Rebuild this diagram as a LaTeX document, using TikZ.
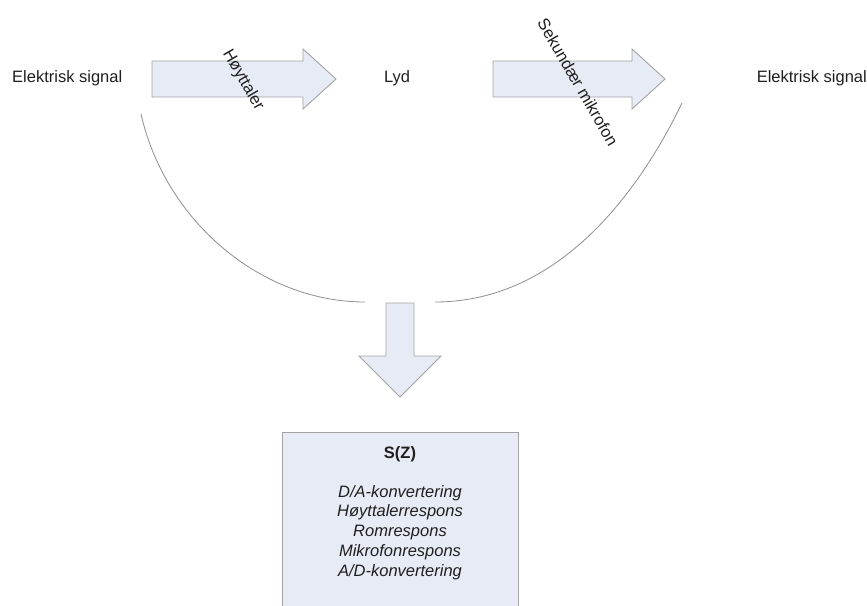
\documentclass[tikz,border=0pt]{standalone}
\usepackage{fontspec}
\setmainfont{Liberation Sans}
\begin{document}
\begin{tikzpicture}[x=1pt,y=-1pt,
  lbl/.style={inner sep=0pt,font=\fontsize{16.5}{19.8}\selectfont,text=black!88},
  blockarrow/.style={fill=arrowfill,draw=arrowline,line width=0.9pt,line join=miter},
  sweep/.style={draw=curveline,line width=0.8pt}]
\definecolor{arrowfill}{HTML}{E7EBF5}
\definecolor{arrowline}{HTML}{A3A3A3}
\definecolor{curveline}{HTML}{8E8E8E}
\useasboundingbox (0,0) rectangle (867,605);
\clip (0,0) rectangle (867,605);

% labels along the signal chain
\node[lbl,anchor=west] (elin) at (12,78) {Elektrisk signal};
\node[lbl] (lyd) at (397,78) {Lyd};
\node[lbl,anchor=east] (elout) at (867,78) {Elektrisk signal};

% block arrows
\draw[blockarrow] (152,61) -- (303,61) -- (303,49) -- (336,79) -- (303,109)
  -- (303,97) -- (152,97) -- cycle;
\draw[blockarrow] (493,61) -- (632,61) -- (632,49) -- (665,79) -- (632,109)
  -- (632,97) -- (493,97) -- cycle;
\draw[blockarrow] (386,303) -- (414,303) -- (414,356) -- (441,356) -- (400,397)
  -- (359,356) -- (386,356) -- cycle;

% rotated captions on the arrows
\node[lbl,rotate=-60] (hoy) at (243,80) {Høyttaler};
\node[lbl,rotate=-60] (mik) at (578,82) {Sekundær mikrofon};

% sweeping curves gathering into the down arrow
\coordinate (lstart) at (141,114);
\coordinate (lend) at (365,302);
\coordinate (rstart) at (682,103);
\coordinate (rend) at (435,302);
\draw[sweep] (lstart) .. controls (165,220) and (260,302) .. (lend);
\draw[sweep] (rstart) .. controls (640,190) and (560,302) .. (rend);

% transfer function box
\node[draw=arrowline,fill=arrowfill,line width=0.9pt,minimum width=236pt,
  minimum height=200pt,anchor=north,inner sep=0pt] (sz) at (400,432) {};
\node[lbl,anchor=base,font=\fontsize{16.5}{19.8}\selectfont\bfseries] (szt) at (400,458) {S(Z)};
\node[lbl,anchor=north,align=center,font=\fontsize{16.5}{19.8}\selectfont\itshape]
  (szl) at (400,485) {D/A-konvertering\\Høyttalerrespons\\Romrespons\\Mikrofonrespons\\A/D-konvertering};
\end{tikzpicture}
\end{document}
